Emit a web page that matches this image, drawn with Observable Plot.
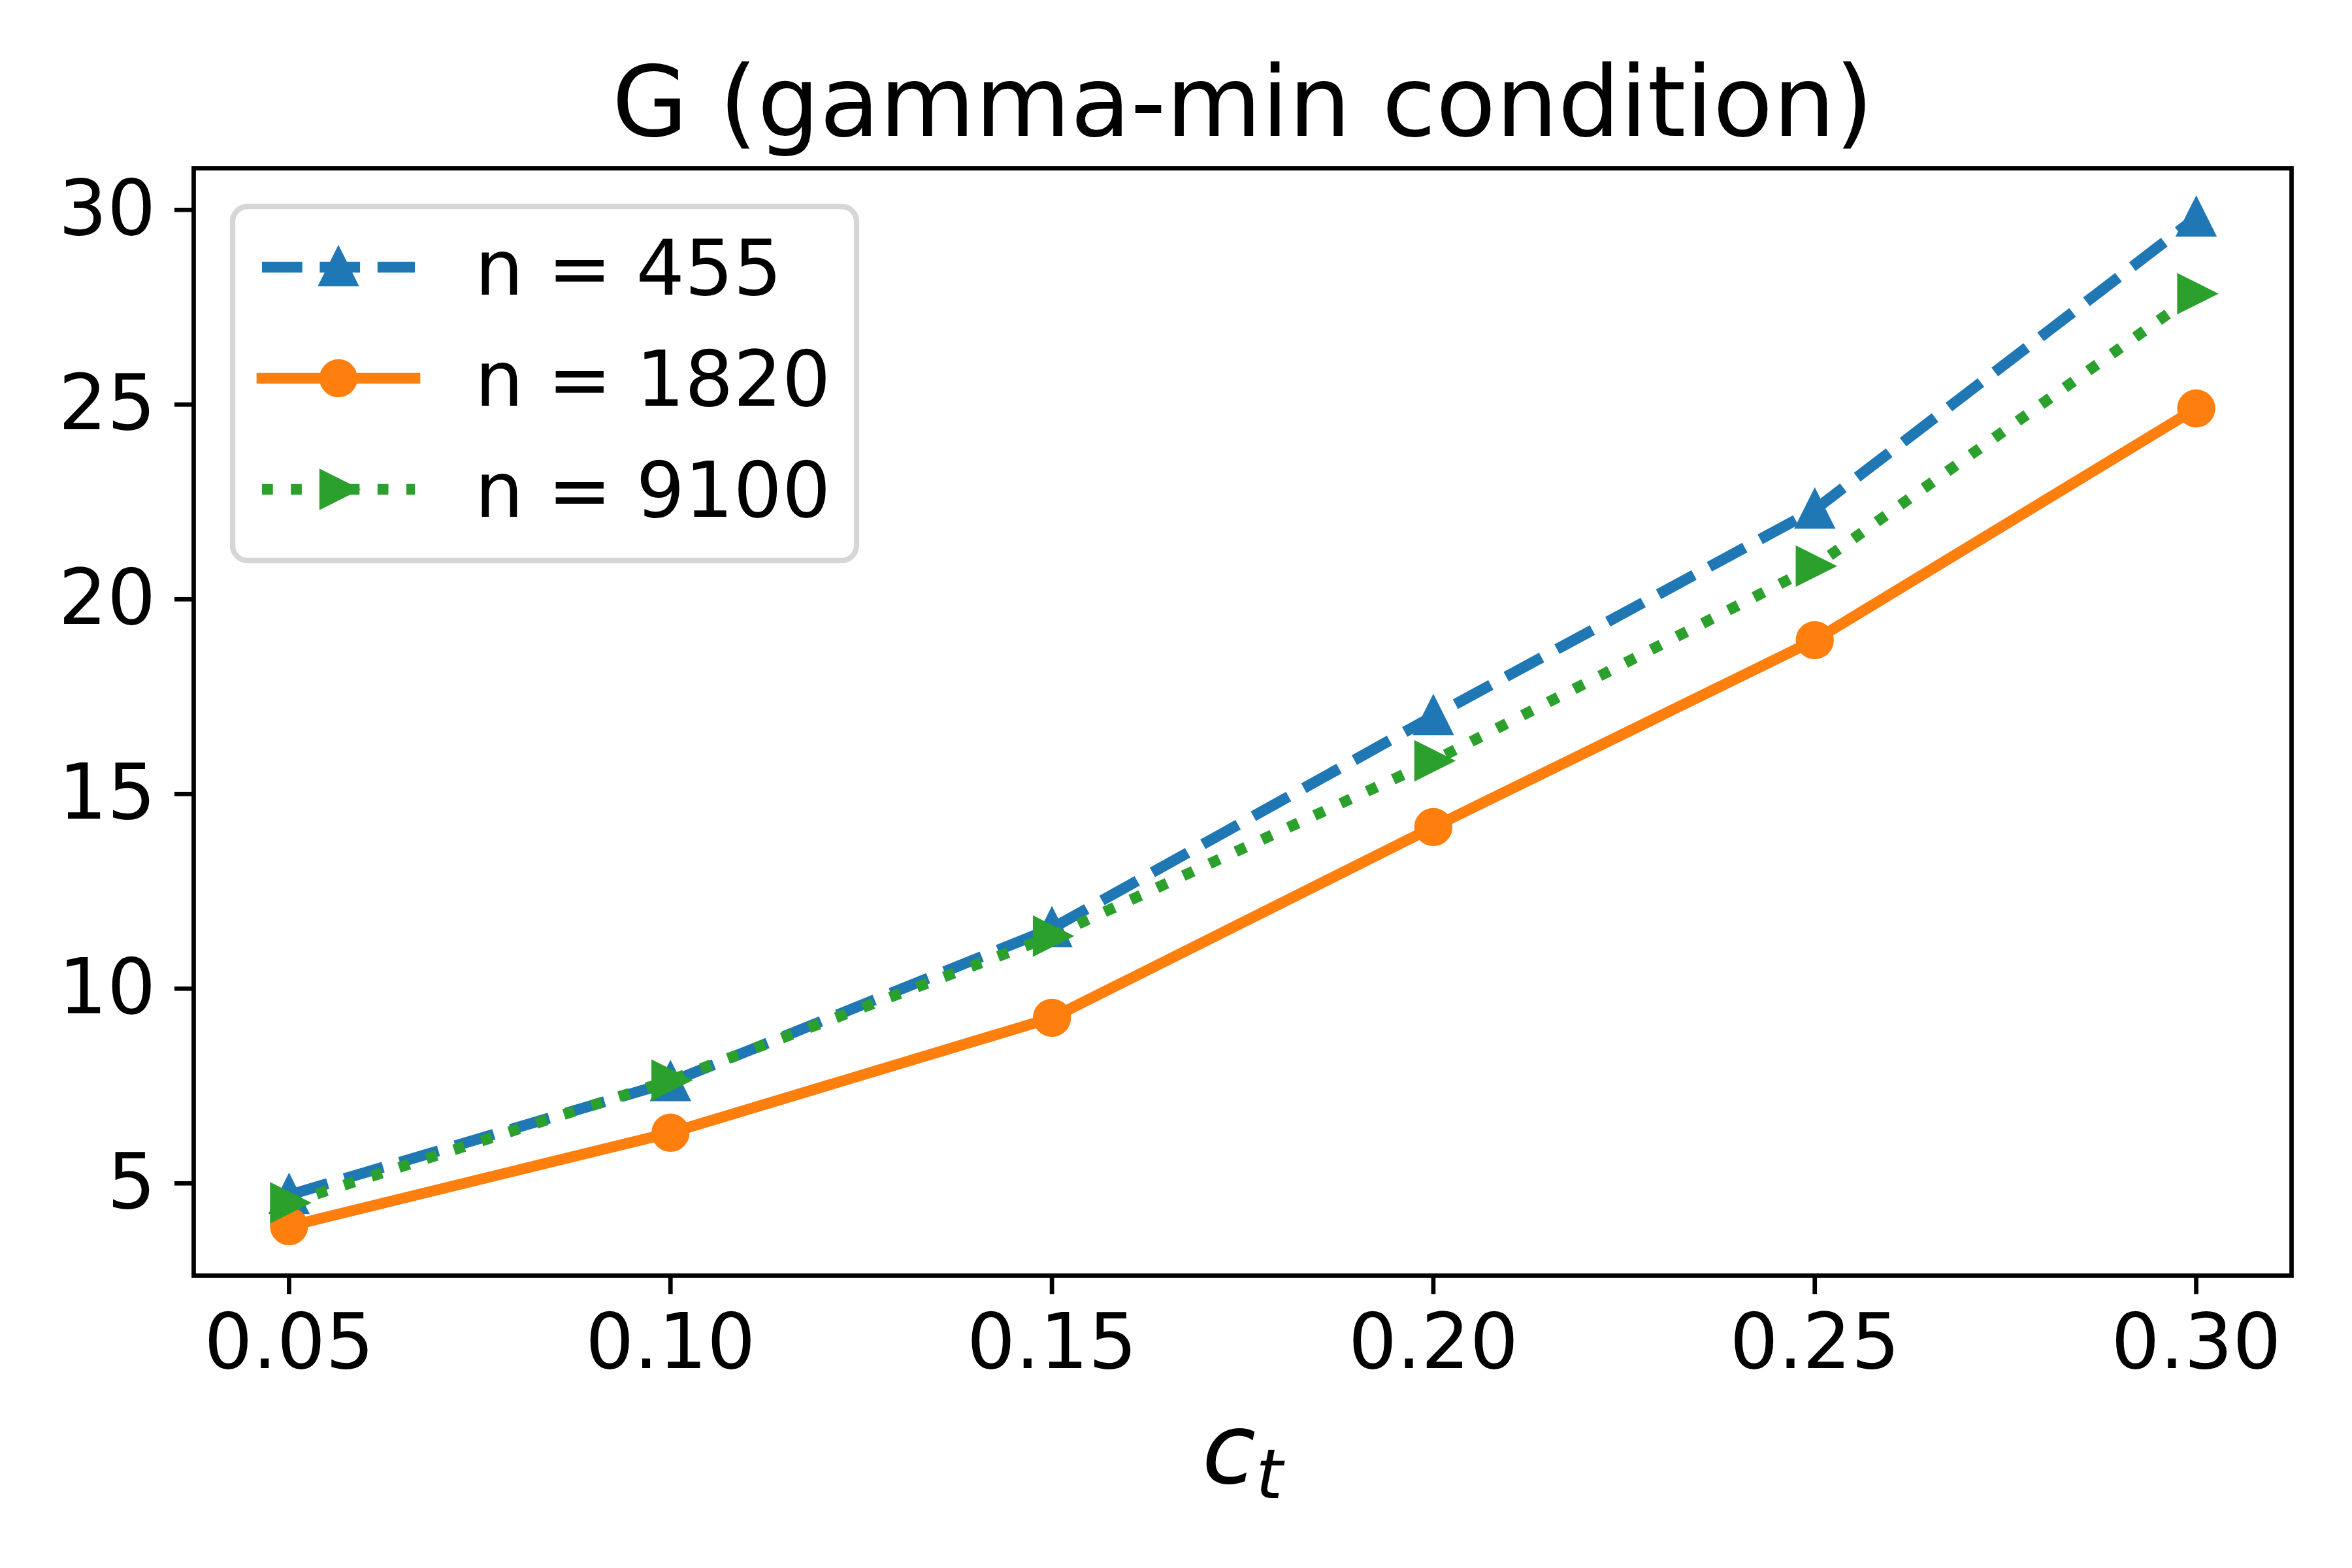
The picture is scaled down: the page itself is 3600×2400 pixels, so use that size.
<!DOCTYPE html>
<html><head><meta charset="utf-8">
<script src="https://cdn.jsdelivr.net/npm/d3@7"></script>
<script src="https://cdn.jsdelivr.net/npm/@observablehq/plot@0.6"></script>
<style>
html,body{margin:0;padding:0;background:#fff;}
#wrap{position:relative;width:3600px;height:2400px;}
#wrap svg.overlay{position:absolute;left:0;top:0;pointer-events:none;}
</style></head><body><div id="wrap"></div>
<script>
// ---- data ----
const ct = [0.05, 0.10, 0.15, 0.20, 0.25, 0.30];
const g455 = [4.7, 7.6, 11.55, 17.0, 22.3, 29.8];
const g1820 = [3.9, 6.3, 9.25, 14.15, 18.95, 24.9];
const g9100 = [4.5, 7.65, 11.35, 15.85, 20.85, 27.85];
const seriesNames = ["n = 455", "n = 1820", "n = 9100"];
const xTicks = [0.05, 0.10, 0.15, 0.20, 0.25, 0.30];
const yTicks = [5, 10, 15, 20, 25, 30];
const titleText = "G (gamma-min condition)";
const xLabelBase = "c", xLabelSub = "t";

// ---- styles ----
const colors = ["#1f77b4", "#ff7f0e", "#2ca02c"];
const LW = 16.67;
const MS = 25;      // marker half size
const MEW = 8.33;   // marker edge width
const symbols = {
  up: {draw(c, size) { const s = Math.sqrt(size / Math.PI); c.moveTo(0, -s); c.lineTo(s, s); c.lineTo(-s, s); c.closePath(); }},
  right: {draw(c, size) { const s = Math.sqrt(size / Math.PI); c.moveTo(s, 0); c.lineTo(-s, s); c.lineTo(-s, -s); c.closePath(); }},
  circle: {draw(c, size) { const s = Math.sqrt(size / Math.PI); c.moveTo(s, 0); c.arc(0, 0, s, 0, 2 * Math.PI); c.closePath(); }}
};
const styles = [
  {dash: "61.7,26.7", cap: "butt", symbol: symbols.up},
  {dash: null, cap: "square", symbol: symbols.circle},
  {dash: "16.7,27.5", cap: "butt", symbol: symbols.right}
];
const seriesValues = [g455, g1820, g9100];
const series = seriesValues.map((vals, k) => ct.map((x, i) => ({x, y: vals[i], k})));

const W = 3600, H = 2400, mL = 296, mR = 93, mT = 257, mB = 448;

const marks = [
  Plot.axisX({ticks: xTicks, tickFormat: d3.format(".2f"), tickSize: 29, tickPadding: 29, fontSize: 117, strokeWidth: 6.7, label: null}),
  Plot.axisY({ticks: yTicks, tickSize: 29, tickPadding: 29, fontSize: 117, strokeWidth: 6.7, label: null})
];
series.forEach((data, k) => {
  const st = styles[k];
  marks.push(Plot.line(data, {x: "x", y: "y", stroke: colors[k], strokeWidth: LW,
    strokeDasharray: st.dash || undefined, strokeLinecap: st.cap, strokeLinejoin: "round"}));
  marks.push(Plot.dot(data, {x: "x", y: "y", symbol: st.symbol, r: MS, fill: colors[k],
    stroke: colors[k], strokeWidth: MEW, strokeLinejoin: "miter"}));
});
marks.push(Plot.frame({stroke: "black", strokeWidth: 6.7}));
marks.push(Plot.text([titleText], {text: d => d, frameAnchor: "top", dy: -50, lineAnchor: "bottom", fontSize: 150, fill: "black"}));

const plot = Plot.plot({
  width: W, height: H, marginLeft: mL, marginRight: mR, marginTop: mT, marginBottom: mB,
  x: {domain: [0.0375, 0.3125]},
  y: {domain: [2.63, 31.07]},
  style: {fontFamily: "DejaVu Sans", background: "white", color: "black", overflow: "visible"},
  marks
});
const wrap = document.getElementById("wrap");
wrap.appendChild(plot);

// x label (math-style c_t)
const svgSel = d3.select(plot);
const xl = svgSel.append("text")
  .attr("x", mL + (W - mL - mR) / 2).attr("y", 2270)
  .attr("text-anchor", "middle").attr("font-family", "DejaVu Sans").attr("font-style", "italic")
  .attr("fill", "black");
xl.append("tspan").attr("font-size", 150).text(xLabelBase);
xl.append("tspan").attr("font-size", 105).attr("dy", 23).text(xLabelSub);

// legend overlay
const lg = d3.select(wrap).append("svg").attr("class", "overlay")
  .attr("width", W).attr("height", H).attr("viewBox", `0 0 ${W} ${H}`);
lg.append("rect").attr("x", 356).attr("y", 316).attr("width", 955).attr("height", 542)
  .attr("rx", 23).attr("ry", 23).attr("fill", "white").attr("fill-opacity", 0.8)
  .attr("stroke", "#d6d6d6").attr("stroke-width", 8.3);
seriesNames.forEach((name, k) => {
  const st = styles[k];
  const cy = 409 + 170 * k;
  lg.append("line").attr("x1", 401).attr("x2", 635).attr("y1", cy).attr("y2", cy)
    .attr("stroke", colors[k]).attr("stroke-width", LW)
    .attr("stroke-dasharray", st.dash).attr("stroke-linecap", st.cap);
  const p = d3.path();
  st.symbol.draw(p, MS * MS * Math.PI);
  lg.append("path").attr("d", p.toString()).attr("transform", `translate(518,${cy})`)
    .attr("fill", colors[k]).attr("stroke", colors[k]).attr("stroke-width", MEW)
    .attr("stroke-linejoin", "miter");
  lg.append("text").attr("x", 727).attr("y", cy + 42).attr("font-family", "DejaVu Sans")
    .attr("font-size", 117).attr("fill", "black").text(name);
});
</script></body></html>
